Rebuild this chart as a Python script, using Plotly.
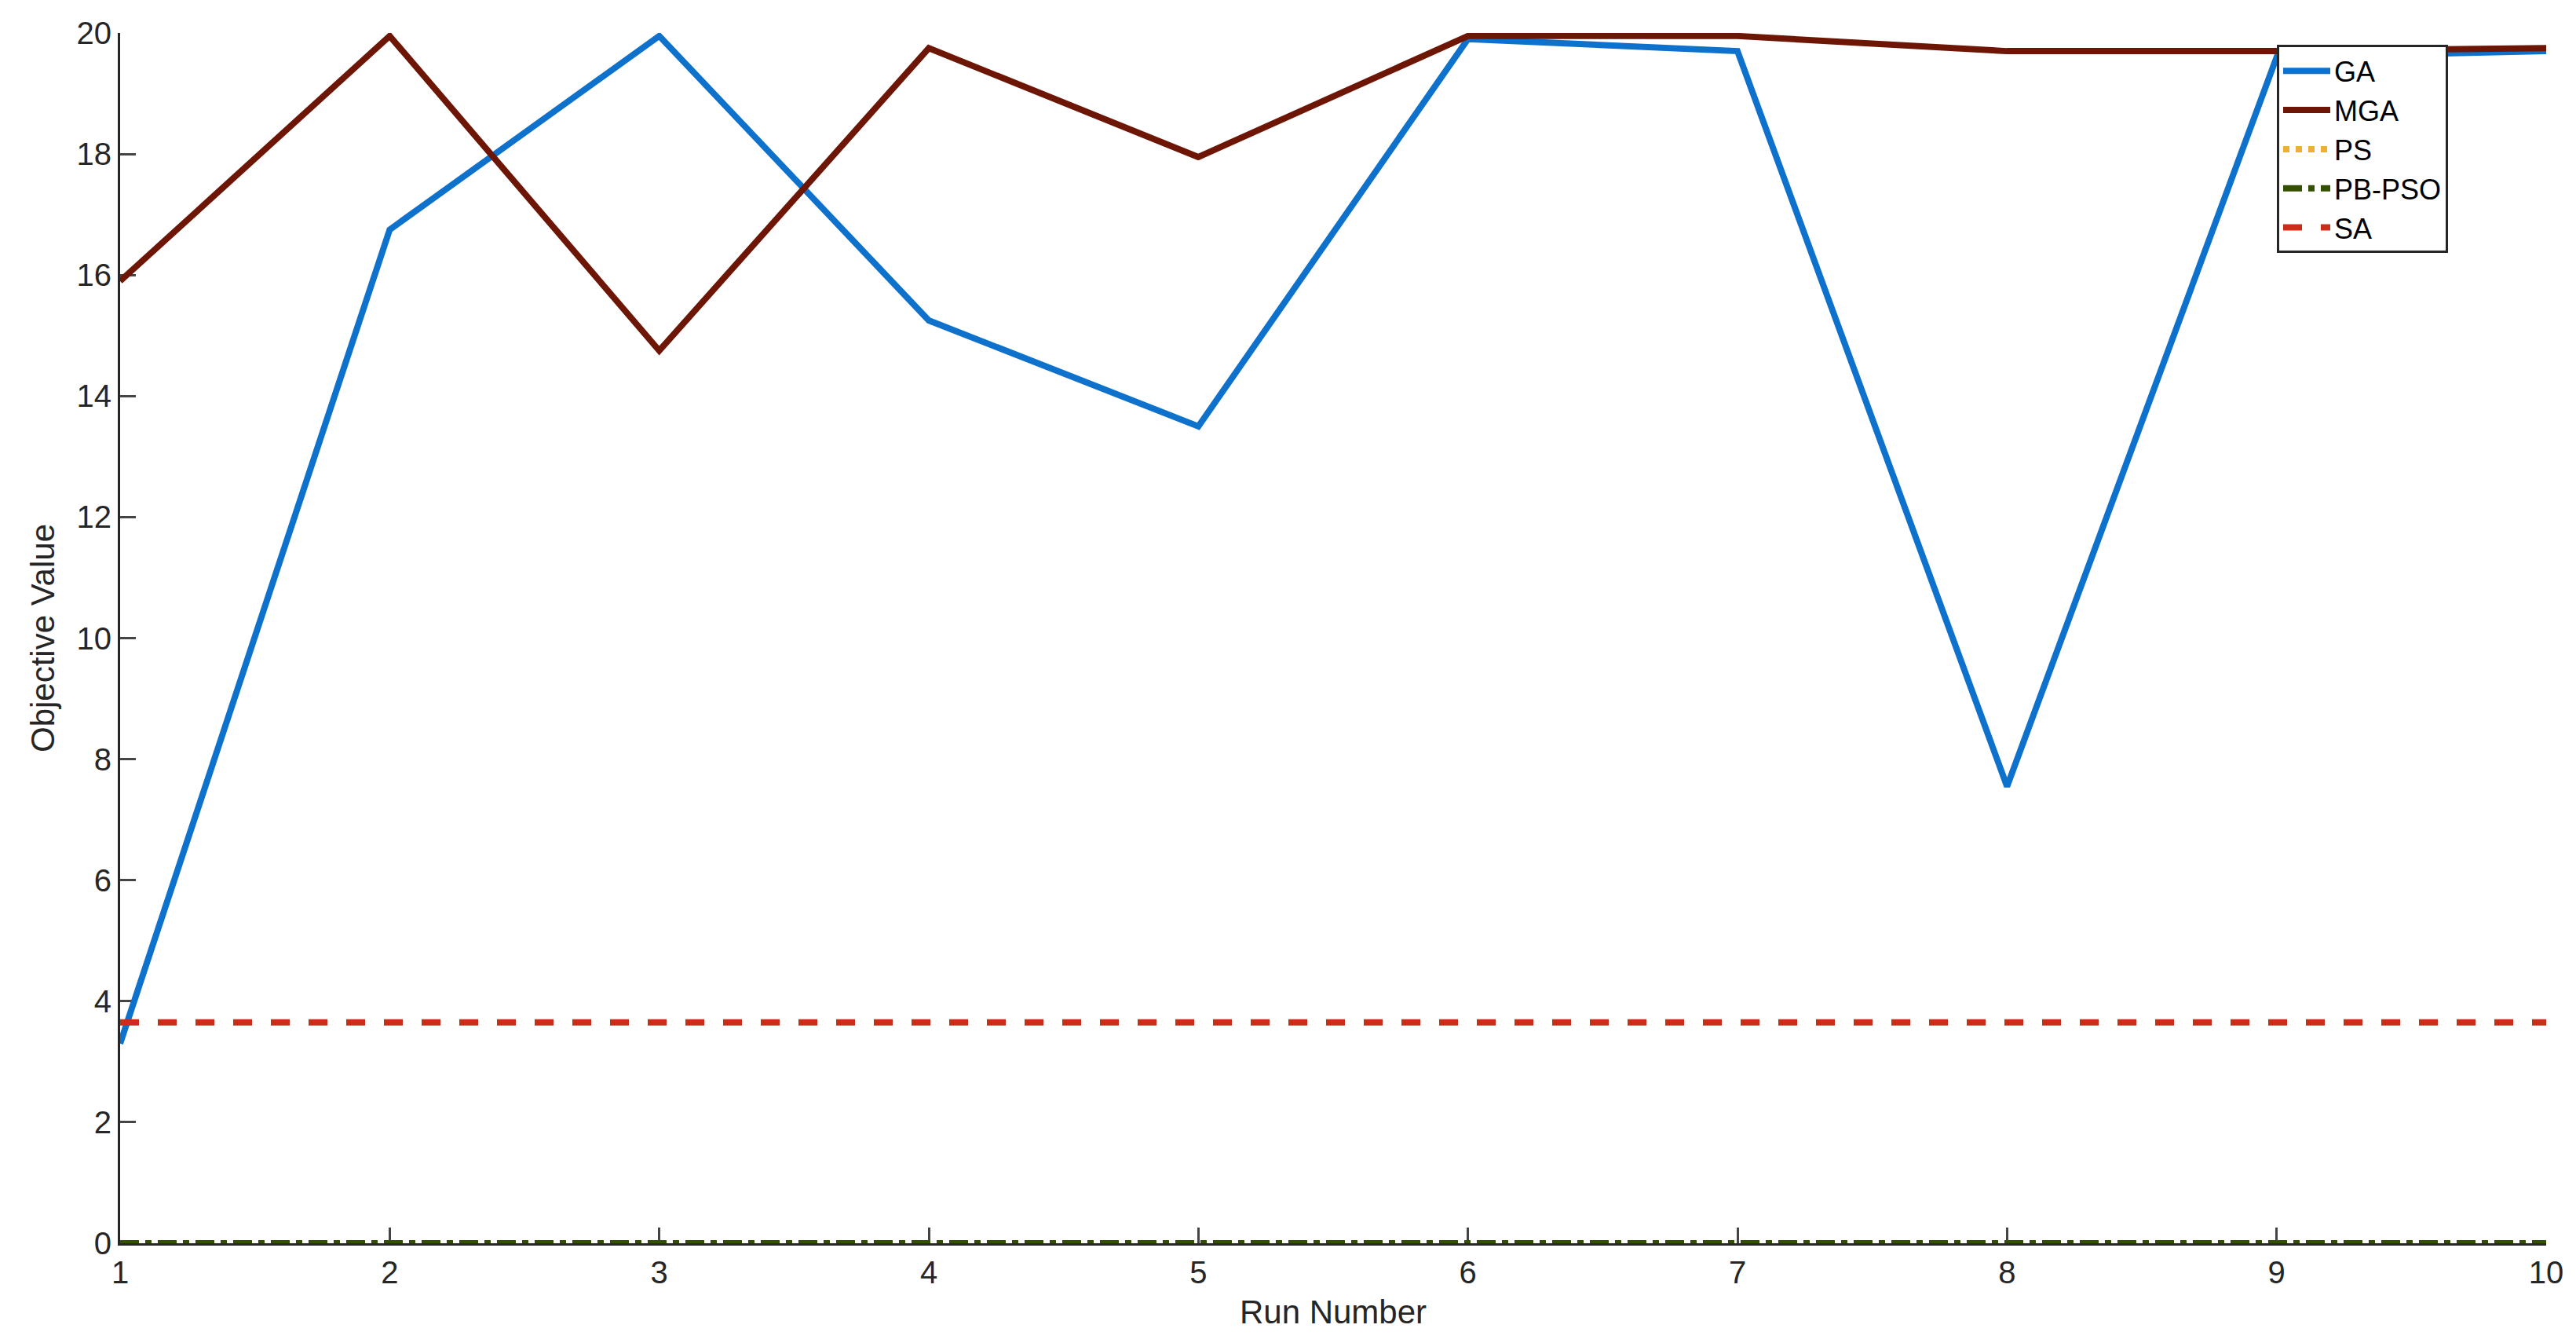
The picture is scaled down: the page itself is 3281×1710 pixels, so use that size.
import plotly.graph_objects as go

runs = [1, 2, 3, 4, 5, 6, 7, 8, 9, 10]
ga = [3.3, 16.75, 19.95, 15.25, 13.5, 19.9, 19.7, 7.55, 19.6, 19.7]
mga = [15.9, 19.95, 14.75, 19.75, 17.95, 19.95, 19.95, 19.7, 19.7, 19.75]
ps = [0] * 10
pbpso = [0] * 10
sa = [3.65] * 10

fig = go.Figure()
W = 8
fig.add_trace(go.Scatter(x=runs, y=ga, name="GA", mode="lines", line=dict(color="#0e72cd", width=W), cliponaxis=False))
fig.add_trace(go.Scatter(x=runs, y=mga, name="MGA", mode="lines", line=dict(color="#6e1605", width=W), cliponaxis=False))
fig.add_trace(go.Scatter(x=runs, y=ps, name="PS", mode="lines", line=dict(color="#ecb02a", width=W, dash="dot"), cliponaxis=False))
fig.add_trace(go.Scatter(x=runs, y=pbpso, name="PB-PSO", mode="lines", line=dict(color="#335001", width=W, dash="dashdot"), cliponaxis=False))
fig.add_trace(go.Scatter(x=runs, y=sa, name="SA", mode="lines", line=dict(color="#cc2d18", width=W, dash="dash"), cliponaxis=False))

font = "Liberation Sans, Arial, sans-serif"
fig.update_layout(
    width=3281, height=1710, paper_bgcolor="white", plot_bgcolor="white",
    margin=dict(l=145, r=46, t=26, b=135),
    font=dict(family=font, size=40, color="#262626"),
    showlegend=True,
    legend=dict(x=0.889, y=0.99, xanchor="left", yanchor="top", bgcolor="white",
                bordercolor="#262626", borderwidth=3, font=dict(size=36, color="black"),
                tracegroupgap=0, itemwidth=60),
    xaxis=dict(range=[1, 10], tickvals=runs, ticks="inside", ticklen=20, tickwidth=3,
               showline=True, linecolor="#262626", linewidth=3, showgrid=False, zeroline=False,
               layer="below traces",
               title=dict(text="Run Number", font=dict(size=42)), tickfont=dict(size=40)),
    yaxis=dict(range=[0, 20], tickvals=list(range(0, 21, 2)), ticks="inside", ticklen=20, tickwidth=3,
               showline=True, linecolor="#262626", linewidth=3, showgrid=False, zeroline=False,
               layer="below traces",
               title=dict(text="Objective Value", font=dict(size=42)), tickfont=dict(size=40)),
)
fig.write_html("out.html")
